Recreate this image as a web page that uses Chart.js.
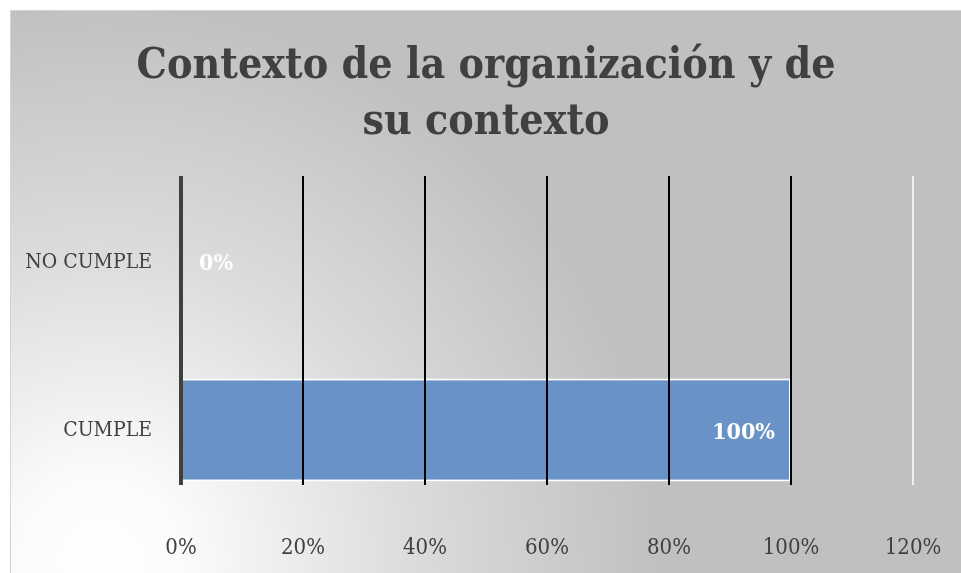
<!DOCTYPE html>
<html>
<head>
<meta charset="utf-8">
<script src="https://cdn.jsdelivr.net/npm/chart.js@4"></script>
<style>
  html, body { margin: 0; padding: 0; background: #fff; }
  #marco {
    position: absolute; left: 10px; top: 10px; width: 950px; height: 562px;
    border-left: 1px solid #d4d4d4; border-top: 1px solid #d4d4d4;
    background: radial-gradient(circle 560px at 90px 550px, #ffffff 0%, #fbfbfb 15%, #dcdcdc 55%, #c0c0c0 100%);
  }
</style>
</head>
<body>
<div id="marco"><canvas id="grafico" width="950" height="562"></canvas></div>
<script>
// Datos (de abajo hacia arriba en el eje vertical)
const categorias = ['CUMPLE', 'NO CUMPLE'];
const porcentajes = [100, 0];
const ticksX = [0, 20, 40, 60, 80, 100, 120];

const fuente = "'DejaVu Serif Condensed', 'DejaVu Serif', serif";

// Etiquetas de datos blancas dentro de la barra
const etiquetasPlugin = {
    id: 'etiquetas',
    afterDraw(chart) {
        const ctx = chart.ctx;
        const meta = chart.getDatasetMeta(0);
        ctx.save();
        ctx.font = 'bold 23px ' + fuente;
        ctx.fillStyle = '#ffffff';
        ctx.textBaseline = 'middle';
        meta.data.forEach((barra, i) => {
            const texto = porcentajes[i] + '%';
            const ancho = ctx.measureText(texto).width;
            if (barra.x - barra.base > ancho + 30) {
                ctx.textAlign = 'right';
                ctx.fillText(texto, barra.x - 16, barra.y + 3);
            } else {
                ctx.textAlign = 'left';
                ctx.fillText(texto, barra.x + 18, barra.y + 1);
            }
        });
        ctx.restore();
    }
};

const ctx = document.getElementById('grafico').getContext('2d');

new Chart(ctx, {
    type: 'bar',
    data: {
        datasets: [{
            data: porcentajes.map((v, i) => ({ x: v, y: i })),
            backgroundColor: '#6993c6',
            borderColor: '#ffffff',
            borderWidth: 2,
            categoryPercentage: 1,
            barPercentage: 0.617
        }]
    },
    options: {
        indexAxis: 'y',
        responsive: false,
        animation: false,
        layout: { padding: { top: 12, right: 0, left: 0, bottom: 0 } },
        plugins: {
            legend: { display: false },
            tooltip: { enabled: false },
            title: {
                display: true,
                text: ['Contexto de la organización y de', 'su contexto'],
                color: '#404040',
                font: { family: fuente, size: 42.5, weight: 'bold', lineHeight: 56 / 42.5 },
                padding: { top: 16, bottom: 25 }
            }
        },
        scales: {
            x: {
                type: 'linear',
                min: ticksX[0],
                max: ticksX[ticksX.length - 1],
                afterBuildTicks: s => { s.ticks = ticksX.map(v => ({ value: v })); },
                afterFit: s => { s.height = 88; s.paddingRight = 48; },
                grid: {
                    z: 1,
                    drawTicks: false,
                    color: c => c.tick.value === 0 ? '#404040' : (c.tick.value === 120 ? 'rgba(255,255,255,0.75)' : '#000000'),
                    lineWidth: c => c.tick.value === 0 ? 4 : 2
                },
                border: { display: false },
                ticks: {
                    color: '#404040',
                    font: { family: fuente, size: 22 },
                    padding: 50,
                    callback: v => v + '%'
                }
            },
            y: {
                type: 'linear',
                offset: false,
                min: -0.329,
                max: 1.521,
                afterBuildTicks: s => { s.ticks = categorias.map((c, i) => ({ value: i })); },
                afterFit: s => { s.width = 170; },
                grid: { display: false, drawTicks: false, offset: false },
                border: { display: false },
                ticks: {
                    padding: 29,
                    color: '#404040',
                    font: { family: fuente, size: 21 },
                    callback: v => categorias[v] !== undefined ? categorias[v] : ''
                }
            }
        }
    },
    plugins: [etiquetasPlugin]
});
</script>
</body>
</html>
